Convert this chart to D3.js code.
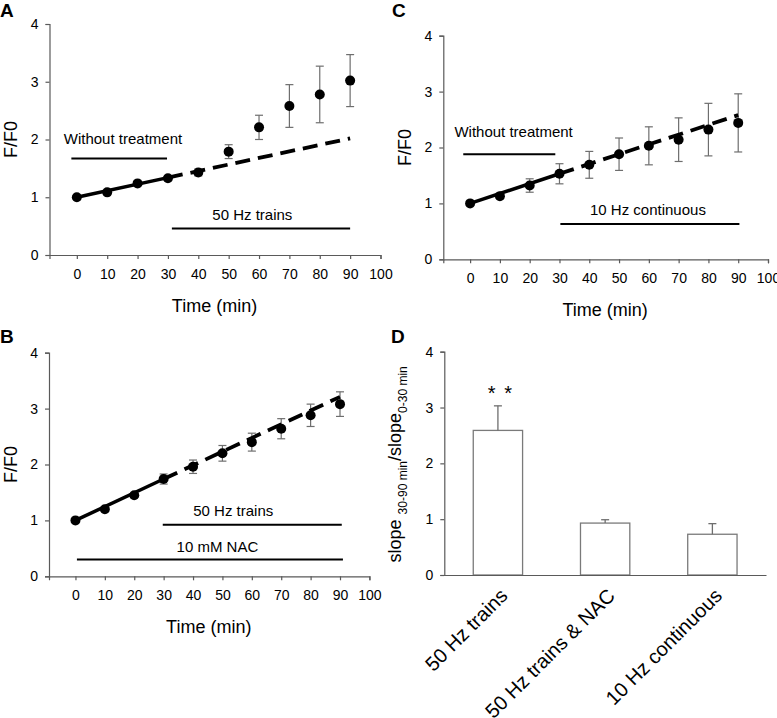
<!DOCTYPE html>
<html><head><meta charset="utf-8">
<script src="https://cdn.jsdelivr.net/npm/d3@7"></script>
<style>
body{margin:0;background:#fff}
svg{display:block}
text{font-family:"Liberation Sans",Arial,Helvetica,sans-serif;fill:#000}
</style>
</head><body>
<script>
// ---------- data ----------
const times = [0,10,20,30,40,50,60,70,80,90];
const xTicks = [0,10,20,30,40,50,60,70,80,90,100];
const yTicks = [0,1,2,3,4];
const fitTimes = [0,30,90];

// Panel A : 50 Hz trains
const valuesA = [1.00,1.085,1.24,1.33,1.43,1.79,2.21,2.58,2.78,3.02];
const semA    = [0,0.02,0.02,0.04,0.06,0.12,0.21,0.37,0.49,0.45];
const fitA    = [1.00,1.34,2.02];
const periodsA = [
  {label:"Without treatment", start:-1.8, end:29.7, level:1.67, labelX:15.2, labelY:1.92},
  {label:"50 Hz trains",      start:31.3, end:90.0, level:0.46, labelX:57.8, labelY:0.61}
];

// Panel B : 50 Hz trains + NAC
const valuesB = [1.00,1.20,1.45,1.74,1.96,2.20,2.40,2.64,2.88,3.08];
const semB    = [0,0.02,0.03,0.09,0.12,0.14,0.16,0.18,0.20,0.22];
const fitB    = [1.00,1.74,3.21];
const periodsB = [
  {label:"50 Hz trains", start:29.7, end:90.6, level:0.92, labelX:53.7, labelY:1.07},
  {label:"10 mM NAC",    start:0.5,  end:91.0, level:0.30, labelX:48.3, labelY:0.44}
];

// Panel C : 10 Hz continuous
const valuesC = [1.00,1.13,1.32,1.53,1.69,1.88,2.03,2.14,2.32,2.44];
const semC    = [0,0.02,0.12,0.18,0.24,0.29,0.34,0.39,0.47,0.52];
const fitC    = [1.00,1.53,2.58];
const periodsC = [
  {label:"Without treatment", start:-2.3, end:28.6, level:1.88, labelX:14.6, labelY:2.18},
  {label:"10 Hz continuous",  start:30.3, end:90.4, level:0.63, labelX:59.7, labelY:0.80}
];

// Panel D : slope ratio
const categoriesD = ["50 Hz trains","50 Hz trains & NAC","10 Hz continuous"];
const valuesD = [2.59,0.93,0.73];
const semD    = [0.44,0.06,0.19];
const signifD = ["* *","",""];

// ---------- drawing ----------
const FONT = '"Liberation Sans",Arial,Helvetica,sans-serif';
const AXIS = "#5a5a5a", ERR = "#6e6e6e";
const svg = d3.select("body").append("svg").attr("width",777).attr("height",718);
svg.append("rect").attr("width",777).attr("height",718).attr("fill","#fff");

function styleAxis(g){
  g.selectAll("path.domain").attr("stroke",AXIS).attr("stroke-width",1.2);
  g.selectAll(".tick line").attr("stroke",AXIS).attr("stroke-width",1.2);
  g.selectAll(".tick text").attr("font-family",FONT).attr("font-size",14).attr("fill","#000");
}

function scatterPanel(p){
  const x = d3.scaleLinear().domain([-9,100]).range(p.xr);
  const y = d3.scaleLinear().domain([0,4]).range(p.yr);
  const g = svg.append("g");

  // axes
  const gy = g.append("g").attr("transform",`translate(${p.xr[0]},0)`)
    .call(d3.axisLeft(y).tickValues(yTicks).tickFormat(d3.format("d")).tickSizeOuter(0).tickSize(4).tickPadding(7));
  styleAxis(gy);
  const gx = g.append("g").attr("transform",`translate(0,${p.yr[0]})`)
    .call(d3.axisBottom(x).tickValues(xTicks).tickFormat(d3.format("d")).tickSizeOuter(0).tickSize(4).tickPadding(10));
  styleAxis(gx);

  // titles
  g.append("text").attr("x",(x(0)+x(90))/2+1).attr("y",p.yr[0]+56.5)
    .attr("text-anchor","middle").attr("font-size",18).text("Time (min)");
  g.append("text").attr("transform",`translate(${p.xr[0]-32.5},${(p.yr[0]+p.yr[1])/2}) rotate(-90)`)
    .attr("text-anchor","middle").attr("font-size",18).text("F/F0");

  // treatment periods
  p.periods.forEach(d=>{
    g.append("line").attr("x1",x(d.start)).attr("x2",x(d.end))
      .attr("y1",y(d.level)).attr("y2",y(d.level)).attr("stroke","#000").attr("stroke-width",2);
    g.append("text").attr("x",x(d.labelX)).attr("y",y(d.labelY))
      .attr("text-anchor","middle").attr("font-size",15).text(d.label);
  });

  // error bars
  const eb = g.append("g").attr("stroke",ERR).attr("stroke-width",1.2);
  times.forEach((t,i)=>{
    const s = p.sem[i]; if(!s) return;
    const cx = x(t), y1 = y(p.values[i]-s), y2 = y(p.values[i]+s);
    eb.append("line").attr("x1",cx).attr("x2",cx).attr("y1",y1).attr("y2",y2);
    eb.append("line").attr("x1",cx-4).attr("x2",cx+4).attr("y1",y1).attr("y2",y1);
    eb.append("line").attr("x1",cx-4).attr("x2",cx+4).attr("y1",y2).attr("y2",y2);
  });

  // fitted lines
  const line = d3.line().x(d=>x(d[0])).y(d=>y(d[1]));
  const pts = fitTimes.map((t,i)=>[t,p.fit[i]]);
  g.append("path").attr("d",line(pts.slice(0,2))).attr("fill","none")
    .attr("stroke","#000").attr("stroke-width",3.5);
  g.append("path").attr("d",line(pts.slice(1,3))).attr("fill","none")
    .attr("stroke","#000").attr("stroke-width",3.8).attr("stroke-dasharray","15,8");

  // markers
  g.selectAll("circle.pt").data(times).join("circle").attr("class","pt")
    .attr("cx",t=>x(t)).attr("cy",(t,i)=>y(p.values[i])).attr("r",5).attr("fill","#000");

  // panel letter
  g.append("text").attr("x",p.letterPos[0]).attr("y",p.letterPos[1])
    .attr("font-size",19).attr("font-weight","bold").text(p.letter);
}

scatterPanel({xr:[49.5,380.5], yr:[255,24],    values:valuesA, sem:semA, fit:fitA, periods:periodsA, letter:"A", letterPos:[0,16.5]});
scatterPanel({xr:[49,369.4],   yr:[576.3,352.7], values:valuesB, sem:semB, fit:fitB, periods:periodsB, letter:"B", letterPos:[0,343]});
scatterPanel({xr:[443.3,768],  yr:[259.3,35.7], values:valuesC, sem:semC, fit:fitC, periods:periodsC, letter:"C", letterPos:[392,16.8]});

// ---- Panel D: bar chart ----
(function(){
  const xr = [444.3,766], yr = [575,351.7];
  const x = d3.scaleBand().domain(categoriesD).range(xr).paddingInner(0.54).paddingOuter(0.27);
  const y = d3.scaleLinear().domain([0,4]).range(yr);
  const g = svg.append("g");

  // bars
  g.selectAll("rect.bar").data(categoriesD).join("rect").attr("class","bar")
    .attr("x",d=>x(d)).attr("width",x.bandwidth())
    .attr("y",(d,i)=>y(valuesD[i])).attr("height",(d,i)=>y(0)-y(valuesD[i]))
    .attr("fill","#fff").attr("stroke","#7a7a7a").attr("stroke-width",1.3);

  // error bars (upper only)
  categoriesD.forEach((c,i)=>{
    const cx = x(c)+x.bandwidth()/2;
    const top = y(valuesD[i]+semD[i]);
    g.append("line").attr("x1",cx).attr("x2",cx).attr("y1",y(valuesD[i])).attr("y2",top)
      .attr("stroke",ERR).attr("stroke-width",1.3);
    g.append("line").attr("x1",cx-4).attr("x2",cx+4).attr("y1",top).attr("y2",top)
      .attr("stroke",ERR).attr("stroke-width",1.3);
    if(signifD[i]){
      g.append("text").attr("x",cx+2).attr("y",top-5.5).attr("text-anchor","middle")
        .attr("font-size",20).style("word-spacing","3px").style("white-space","pre").text(signifD[i]);
    }
  });

  // axes
  const gy = g.append("g").attr("transform",`translate(${xr[0]},0)`)
    .call(d3.axisLeft(y).tickValues(yTicks).tickFormat(d3.format("d")).tickSizeOuter(0).tickSize(4).tickPadding(7));
  styleAxis(gy);
  const gx = g.append("g").attr("transform",`translate(0,${yr[0]})`)
    .call(d3.axisBottom(x).tickSize(0).tickSizeOuter(0).tickPadding(0));
  styleAxis(gx);
  gx.selectAll(".tick text").attr("font-size",20).attr("text-anchor","end")
    .attr("dy",null).attr("y",null)
    .attr("transform","translate(11,22) rotate(-45)");

  // y title with subscripts
  const t = g.append("text").attr("transform",`translate(401,${(yr[0]+yr[1])/2 + 1}) rotate(-90)`)
    .attr("text-anchor","middle").attr("font-size",18);
  t.append("tspan").text("slope ");
  t.append("tspan").attr("dy",6).attr("font-size",12).text("30-90 min");
  t.append("tspan").attr("dy",-6).text("/slope");
  t.append("tspan").attr("dy",6).attr("font-size",12).text("0-30 min");

  g.append("text").attr("x",391).attr("y",343).attr("font-size",19).attr("font-weight","bold").text("D");
})();
</script>
</body></html>
